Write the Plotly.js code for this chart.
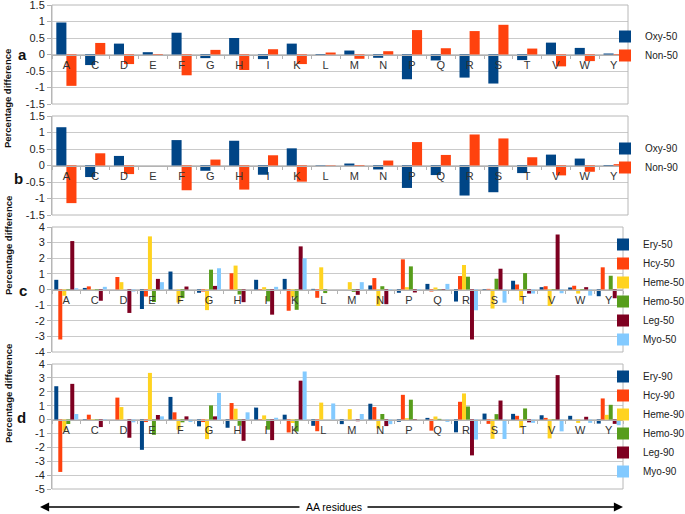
<!DOCTYPE html>
<html><head><meta charset="utf-8">
<script src="https://cdn.plot.ly/plotly-3.0.1.min.js"></script>
<style>html,body{margin:0;background:#fff;overflow:hidden;}</style>
</head><body><div id="chart" style="width:700px;height:514px;"></div>
<script>
// ---- data ----
const residues = ['A','C','D','E','F','G','H','I','K','L','M','N','P','Q','R','S','T','V','W','Y'];

const oxy50 = [0.97,-0.32,0.33,0.07,0.66,-0.11,0.50,-0.14,0.33,-0.03,0.12,-0.10,-0.75,-0.18,-0.70,-0.88,-0.17,0.36,0.20,0.03];
const non50 = [-0.95,0.35,-0.29,-0.03,-0.63,0.14,-0.47,0.16,-0.29,0.06,-0.13,0.10,0.74,0.19,0.71,0.90,0.18,-0.36,-0.20,-0.02];

const oxy90 = [1.16,-0.35,0.29,0.00,0.77,-0.16,0.75,-0.28,0.52,0.01,0.06,-0.12,-0.68,-0.29,-0.91,-0.81,-0.23,0.33,0.21,-0.03];
const non90 = [-1.14,0.37,-0.26,0.00,-0.75,0.18,-0.73,0.31,-0.49,-0.01,-0.04,0.15,0.71,0.32,0.94,0.82,0.25,-0.30,-0.19,0.04];

const ery50  = [0.62,0.10,0.00,-1.25,1.15,-0.21,0.00,0.62,0.68,0.04,0.00,0.26,-0.21,0.36,-0.77,-0.04,0.56,0.15,0.13,-0.43];
const hcy50  = [-3.20,0.20,0.80,-0.45,0.00,-0.13,1.04,-0.08,-1.36,-0.53,0.00,0.73,1.93,-0.13,0.86,0.04,0.32,0.21,0.24,1.42];
const heme50 = [-0.40,0.02,0.47,3.40,-0.83,-1.32,1.53,0.15,-0.50,1.42,0.47,-1.05,0.15,0.13,1.57,-1.22,-0.71,-1.05,-0.26,0.00];
const hemo50 = [-0.08,-0.10,0.00,-0.80,-0.55,1.27,-0.32,-0.76,-1.30,-0.23,-0.15,0.21,1.48,-0.08,0.82,0.69,1.05,-0.08,-0.08,0.88];
const leg50  = [3.10,-0.72,-1.50,0.68,0.19,0.23,-0.81,-1.61,2.76,0.00,-0.34,-0.94,-0.19,-0.08,-3.20,1.33,-0.26,3.52,0.15,-0.56];
const myo50  = [0.08,0.17,-0.13,0.47,0.00,1.36,0.00,0.17,2.00,0.00,0.47,-0.10,-0.04,0.36,-1.33,-0.84,-0.26,-0.24,-0.39,0.00];

const ery90  = [2.40,0.03,0.00,-2.18,1.63,-0.49,-0.59,0.86,0.35,-0.45,-0.33,1.14,-0.16,0.12,-0.92,0.43,0.41,0.31,0.27,-0.29];
const hcy90  = [-3.77,0.35,1.58,-0.18,0.52,-0.18,1.19,-0.08,-0.93,-0.84,0.00,0.90,1.78,-0.80,1.28,-0.31,0.27,0.12,0.00,1.52];
const heme90 = [-0.80,0.03,0.90,3.36,-0.73,-1.41,0.78,0.30,-0.25,1.22,0.75,-0.64,0.10,0.22,1.88,-1.39,-0.60,-1.36,-0.24,0.34];
const hemo90 = [-0.32,0.03,0.00,-1.10,-0.20,1.02,-0.45,-0.73,-0.86,0.00,0.00,0.40,1.43,0.05,0.94,0.39,0.80,-0.03,0.00,1.06];
const leg90  = [2.57,-0.54,-1.31,0.33,0.23,0.23,-1.53,-1.48,2.80,0.00,-0.12,-0.47,-0.08,0.00,-2.58,1.37,-0.20,3.20,0.20,-0.31];
const myo90  = [0.40,-0.06,-0.20,0.23,-0.18,1.92,0.52,0.13,3.46,1.16,0.40,-0.33,0.00,-0.17,-1.44,-1.40,-0.24,-0.85,-0.24,-0.41];

const panelLetters = ['a','b','c','d'];
const yTitle = 'Percentage difference';
const xTitle = 'AA residues';

// ---- styling / layout ----
// canvas slightly wider than the 685px window so the right-hand legends are not pushed inward
const W = 700, H = 514;
const PX = x => x / W;
const PY = y => 1 - y / H;
const FONT = 'Liberation Sans, Arial, sans-serif';
const C = {navy:'#004586', orange:'#ff420e', yellow:'#ffd320', green:'#579d1c', maroon:'#7e0021', sky:'#83caff'};

const panels = [
  {x0:52, x1:628, y0:5,   y1:104, range:[-1.5,1.5], dtick:0.5, legX:605, legY:22,
   series:[['Oxy-50',oxy50,C.navy],['Non-50',non50,C.orange]]},
  {x0:52, x1:628, y0:116, y1:215, range:[-1.5,1.5], dtick:0.5, legX:605, legY:134,
   series:[['Oxy-90',oxy90,C.navy],['Non-90',non90,C.orange]]},
  {x0:52, x1:623, y0:227, y1:352, range:[-4,4], dtick:1, legX:603, legY:230,
   series:[['Ery-50',ery50,C.navy],['Hcy-50',hcy50,C.orange],['Heme-50',heme50,C.yellow],
           ['Hemo-50',hemo50,C.green],['Leg-50',leg50,C.maroon],['Myo-50',myo50,C.sky]]},
  {x0:52, x1:623, y0:364, y1:489, range:[-5,4], dtick:1, legX:603, legY:362,
   series:[['Ery-90',ery90,C.navy],['Hcy-90',hcy90,C.orange],['Heme-90',heme90,C.yellow],
           ['Hemo-90',hemo90,C.green],['Leg-90',leg90,C.maroon],['Myo-90',myo90,C.sky]]}
];

const traces = [];
const layout = {
  width: W, height: H,
  margin: {l:0, r:0, t:0, b:0},
  paper_bgcolor: '#fff', plot_bgcolor: '#fff',
  barmode: 'overlay',
  font: {family: FONT, size: 11, color: '#222'},
  shapes: [], annotations: []
};

panels.forEach((p, i) => {
  const k = i === 0 ? '' : String(i + 1);
  const n = p.series.length;
  const bw = n === 2 ? 0.35 : 0.14;
  const legName = 'legend' + k;
  p.series.forEach(([name, vals, col], j) => {
    traces.push({
      type: 'bar', name: name, x: residues, y: vals,
      xaxis: 'x' + k, yaxis: 'y' + k, legend: legName,
      width: bw, offset: -bw * n / 2 + j * bw,
      marker: {color: col, line: {width: 0}},
      hoverinfo: 'x+y+name'
    });
  });
  const yd = [PY(p.y1), PY(p.y0)];
  const zeroPos = yd[0] + (0 - p.range[0]) / (p.range[1] - p.range[0]) * (yd[1] - yd[0]);
  const ticks = [];
  const nT = Math.round((p.range[1] - p.range[0]) / p.dtick);
  for (let t = 0; t <= nT; t++) ticks.push(+(p.range[0] + t * p.dtick).toFixed(2));
  layout['xaxis' + k] = {
    domain: [PX(p.x0), PX(p.x1)], anchor: 'free', position: zeroPos,
    type: 'category', categoryorder: 'array', categoryarray: residues,
    showline: true, linecolor: '#b3b3b3', linewidth: 1,
    ticks: 'outside', tickson: 'boundaries', ticklen: 3, tickcolor: '#b3b3b3',
    showgrid: false, zeroline: false,
    tickfont: {family: FONT, size: 11, color: '#333'}, fixedrange: true
  };
  layout['yaxis' + k] = {
    domain: yd, anchor: 'x' + k, range: p.range,
    tickmode: 'array', tickvals: ticks, ticktext: ticks.map(String),
    ticklabeloverflow: 'allow',
    showline: true, linecolor: '#b3b3b3', linewidth: 1,
    ticks: 'outside', ticklen: 4, tickcolor: '#b3b3b3',
    showgrid: true, gridcolor: '#cacaca', gridwidth: 1, zeroline: false,
    tickfont: {family: FONT, size: 11, color: '#222'}, fixedrange: true
  };
  layout[legName] = {
    x: PX(p.legX), y: PY(p.legY), xanchor: 'left', yanchor: 'top',
    bgcolor: 'rgba(0,0,0,0)', borderwidth: 0,
    font: {family: FONT, size: 10, color: '#222'}, tracegroupgap: 0
  };
  layout.shapes.push({
    type: 'rect', xref: 'x' + k + ' domain', yref: 'y' + k + ' domain',
    x0: 0, x1: 1, y0: 0, y1: 1, line: {color: '#b8b8b8', width: 1}, layer: 'above'
  });
});

// panel letters
[[22,55],[18,178],[23,290],[21,417]].forEach(([x, y], i) => {
  layout.annotations.push({text: panelLetters[i], x: PX(x), y: PY(y), xref: 'paper', yref: 'paper',
    showarrow: false, xanchor: 'center', yanchor: 'middle',
    font: {family: FONT, size: 15, color: '#111', weight: 'bold'}});
});
// y titles
[99, 246, 394].forEach(y => {
  layout.annotations.push({text: yTitle, x: PX(8), y: PY(y), xref: 'paper', yref: 'paper',
    showarrow: false, textangle: -90, xanchor: 'center', yanchor: 'middle',
    font: {family: FONT, size: 9.5, color: '#111', weight: 'bold'}});
});
// bottom arrows and label
layout.annotations.push({text: '', x: PX(40), y: PY(507), xref: 'paper', yref: 'paper',
  showarrow: true, ax: 261, ay: 0, arrowhead: 2, arrowsize: 1.3, arrowwidth: 1.4, arrowcolor: '#000'});
layout.annotations.push({text: '', x: PX(623), y: PY(507), xref: 'paper', yref: 'paper',
  showarrow: true, ax: -257, ay: 0, arrowhead: 2, arrowsize: 1.3, arrowwidth: 1.4, arrowcolor: '#000'});
layout.annotations.push({text: xTitle, x: PX(334), y: PY(507), xref: 'paper', yref: 'paper',
  showarrow: false, xanchor: 'center', yanchor: 'middle',
  font: {family: FONT, size: 10.5, color: '#000'}});

Plotly.newPlot('chart', traces, layout, {displayModeBar: false, staticPlot: true});
</script>
</body></html>
